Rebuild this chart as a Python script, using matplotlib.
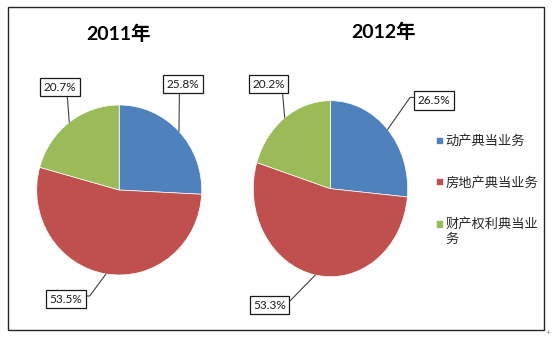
import numpy as np
import matplotlib
matplotlib.use('Agg')
import matplotlib.pyplot as plt
from matplotlib.patches import Rectangle

plt.rcParams['font.family'] = ['Lato', 'Noto Sans CJK SC', 'DejaVu Sans']

categories = ['动产典当业务', '房地产典当业务', '财产权利典当业\n务']
years = ['2011年', '2012年']
shares_2011 = [25.8, 53.5, 20.7]
shares_2012 = [26.5, 53.3, 20.2]
colors = ['#4F81BD', '#C0504D', '#9BBB59']

W, H = 554, 338
fig = plt.figure(figsize=(W / 100, H / 100), dpi=100)


def box(x0, y0, x1, y1):
    # pixel box (top-down y) -> figure fraction rect
    return [x0 / W, 1 - y1 / H, (x1 - x0) / W, (y1 - y0) / H]


# outer frame
fig.patches.append(Rectangle((8 / W, 1 - 330 / H), 535.5 / W, 323.5 / H,
                             transform=fig.transFigure, fill=False,
                             edgecolor='#262626', linewidth=1.0))

# pie axes, label boxes (pixel centre) and leader settings per slice
charts = [
    dict(vals=shares_2011, title=years[0], rect=box(36.7, 105, 201.7, 275),
         title_xy=(119, 34),
         label_xy=[(182.7, 84.3), (66, 299.3), (60.2, 87.3)],
         relpos=[(0.4, 0.0), (1.0, 0.8), (0.71, 0.0)],
         conn=['arc3', 'angle,angleA=0,angleB=53.5,rad=0', 'arc3']),
    dict(vals=shares_2012, title=years[1], rect=box(253.3, 100.7, 407.7, 276.7),
         title_xy=(384, 32),
         label_xy=[(434.2, 100.5), (269.5, 305.3), (268.3, 84.2)],
         relpos=[(0.0, 0.78), (1.0, 0.79), (0.93, 0.0)],
         conn=['angle,angleA=0,angleB=55,rad=0', 'angle,angleA=0,angleB=45.7,rad=0', 'arc3']),
]

wedges = None
for c in charts:
    ax = fig.add_axes(c['rect'])
    w, _ = ax.pie(c['vals'], colors=colors, startangle=90, counterclock=False,
                  wedgeprops=dict(edgecolor='white', linewidth=0.5))
    ax.set_aspect('auto')
    ax.set_xlim(-1, 1)
    ax.set_ylim(-1, 1)
    ax.axis('off')
    if wedges is None:
        wedges = w
    for wd, v, (lx, ly), rp, cs in zip(w, c['vals'], c['label_xy'], c['relpos'], c['conn']):
        mid = np.deg2rad((wd.theta1 + wd.theta2) / 2)
        ax.annotate(f'{v:.1f}%', xy=(np.cos(mid), np.sin(mid)), xycoords='data',
                    xytext=(lx, H - ly), textcoords='figure pixels',
                    ha='center', va='center', fontsize=8.5, color='#1a1a1a',
                    bbox=dict(boxstyle='square,pad=0.3', fc='white', ec='#1a1a1a', lw=0.9),
                    arrowprops=dict(arrowstyle='-', color='#404040', lw=0.8,
                                    shrinkA=0, shrinkB=0, relpos=rp, connectionstyle=cs),
                    annotation_clip=False)
    fig.text(c['title_xy'][0] / W, 1 - c['title_xy'][1] / H, c['title'],
             ha='center', va='center', fontsize=14, fontweight='bold', color='black')

leg = fig.legend(wedges, categories, loc='upper left',
                 bbox_to_anchor=(436 / W, 1 - 135 / H), frameon=False,
                 handlelength=0.5, handleheight=0.5, handletextpad=0.2,
                 labelspacing=2.15, borderpad=0, borderaxespad=0,
                 prop={'family': ['Noto Sans CJK SC'], 'size': 9.5})
for t in leg.get_texts():
    t.set_color('#262626')
    t.set_linespacing(1.25)
# keep the marker of the wrapped entry level with its first line
h = leg.legend_handles[2]
h.set_y(h.get_y() + 5.8)

fig.text(548 / W, 1 - 333 / H, '+', fontsize=6, color='#808080', ha='center', va='center')

fig.savefig('out.png', dpi=100)
